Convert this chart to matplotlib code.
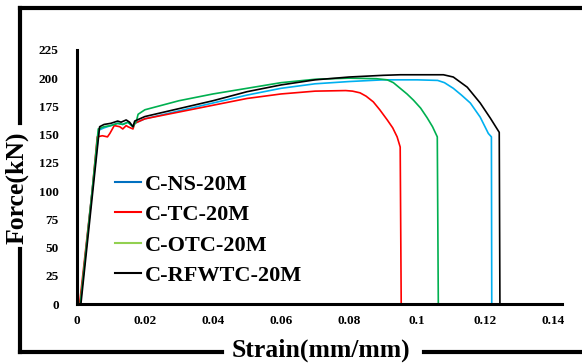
import matplotlib
matplotlib.use("Agg")
import matplotlib.pyplot as plt
from matplotlib.lines import Line2D

plt.rcParams['font.family'] = ['Liberation Serif', 'DejaVu Serif']
plt.rcParams['font.weight'] = 'bold'

# strain (mm/mm) / force (kN)
ns_strain = [0.001, 0.0045, 0.0065, 0.008, 0.010, 0.012, 0.0135, 0.015, 0.0165, 0.017,
             0.020, 0.030, 0.040, 0.050, 0.060, 0.070, 0.080, 0.090, 0.100, 0.106,
             0.108, 0.1106, 0.113, 0.1156, 0.1185, 0.1209, 0.1218, 0.1219]
ns_force = [0, 100, 154, 156, 158, 160, 159, 161, 157, 160,
            164, 171, 178, 185, 191, 195, 197, 198.5, 198.5, 198,
            196, 191, 185, 178, 165.5, 151, 148, 0]

tc_strain = [0.0008, 0.0045, 0.006, 0.0075, 0.009, 0.0097, 0.011, 0.0126, 0.0135, 0.0145,
             0.015, 0.0165, 0.017, 0.020, 0.030, 0.040, 0.050, 0.060, 0.070, 0.079,
             0.081, 0.0832, 0.085, 0.0871, 0.089, 0.0912, 0.0928, 0.0941, 0.0950, 0.0953]
tc_force = [0, 100, 148, 149, 148, 151, 158, 157, 155, 158,
            157, 155, 160, 164, 170, 176, 182, 186, 188.5, 189,
            188.5, 187, 184, 179, 172, 163, 156, 148, 139, 0]

otc_strain = [0.001, 0.0045, 0.0063, 0.008, 0.010, 0.012, 0.0135, 0.015, 0.0165, 0.0175,
              0.018, 0.020, 0.030, 0.040, 0.050, 0.060, 0.070, 0.080, 0.088, 0.0912,
              0.093, 0.095, 0.097, 0.0989, 0.101, 0.1029, 0.1045, 0.1059, 0.1062]
otc_force = [0, 100, 155, 157, 158, 160, 159, 161, 157, 162,
             168, 172, 180, 186, 191, 196, 199, 200, 199.5, 198.5,
             196, 191, 186, 180.5, 173.5, 165, 157, 148, 0]

rfwtc_strain = [0.0012, 0.0047, 0.0067, 0.008, 0.010, 0.012, 0.013, 0.0145, 0.0155, 0.0165,
                0.017, 0.020, 0.030, 0.040, 0.050, 0.060, 0.070, 0.080, 0.090, 0.095,
                0.1077, 0.1106, 0.1147, 0.1185, 0.1215, 0.1241, 0.1243]
rfwtc_force = [0, 100, 157, 159, 160, 162, 161, 163, 161, 157,
               162, 166, 173, 180, 188, 194, 198.5, 201, 202.5, 203,
               203, 201, 192, 178, 164.5, 152, 0]

labels = ['C-NS-20M', 'C-TC-20M', 'C-OTC-20M', 'C-RFWTC-20M']
curve_colors = ['#00B0F0', '#FF0000', '#00B050', '#000000']
legend_colors = ['#0070C0', '#FF0000', '#92D050', '#000000']
xticks = [0, 0.02, 0.04, 0.06, 0.08, 0.1, 0.12, 0.14]
xtick_labels = ['0', '0.02', '0.04', '0.06', '0.08', '0.1', '0.12', '0.14']
yticks = [0, 25, 50, 75, 100, 125, 150, 175, 200, 225]

fig = plt.figure(figsize=(5.82, 3.63), dpi=100)
ax = fig.add_axes([0.132, 0.1625, 0.834, 0.70])

data = [(ns_strain, ns_force), (tc_strain, tc_force),
        (otc_strain, otc_force), (rfwtc_strain, rfwtc_force)]
for (x, y), c in zip(data, curve_colors):
    ax.plot(x, y, color=c, lw=1.2)

ax.set_xlim(0, 0.1426)
ax.set_ylim(0, 225)
ax.set_xticks(xticks)
ax.set_xticklabels(xtick_labels)
ax.set_yticks(yticks)
ax.tick_params(length=0, labelsize=9.5)
ax.tick_params(axis='y', pad=13)
ax.tick_params(axis='x', pad=8)
for s in ['top', 'right']:
    ax.spines[s].set_visible(False)
for s in ['left', 'bottom']:
    ax.spines[s].set_linewidth(2.2)

handles = [Line2D([], [], color=c, lw=1.5) for c in legend_colors]
ax.legend(handles, labels, loc='upper left', bbox_to_anchor=(115 / 582, 1 - 174 / 363),
          bbox_transform=fig.transFigure, frameon=False, fontsize=16,
          handlelength=1.15, handletextpad=0.2, labelspacing=0.45, borderpad=0,
          borderaxespad=0)

# outer frame broken by the axis titles
lw = 3
fig.add_artist(Line2D([0.034, 1.0], [0.978, 0.978], color='black', lw=lw))
fig.add_artist(Line2D([0.034, 0.034], [0.978, 0.66], color='black', lw=lw))
fig.add_artist(Line2D([0.034, 0.034], [0.315, 0.030], color='black', lw=lw))
fig.add_artist(Line2D([0.034, 0.382], [0.030, 0.030], color='black', lw=lw))
fig.add_artist(Line2D([0.728, 1.0], [0.030, 0.030], color='black', lw=lw))

fig.text(17 / 582, 1 - 188 / 363, 'Force(kN)', rotation=90, ha='center', va='center',
         fontsize=18.5, fontweight='bold')
fig.text(321 / 582, 1 - 350 / 363, 'Strain(mm/mm)', ha='center', va='center',
         fontsize=18.5, fontweight='bold')

fig.savefig('out.png', dpi=100)
